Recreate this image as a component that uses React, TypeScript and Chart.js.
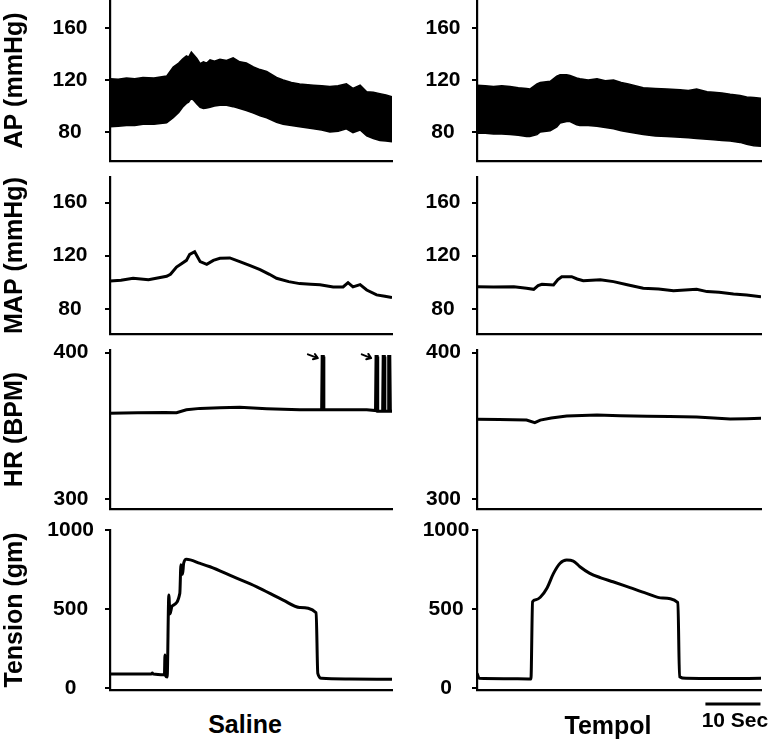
import React, { useEffect, useRef } from "react";
import { Chart, registerables } from "chart.js";

Chart.register(...registerables);

const FONT = "'Liberation Sans', Arial, Helvetica, sans-serif";

// ---------- DATA (time in seconds) ----------
// AP, Saline: envelope of the pulsatile trace (systolic / diastolic)
const apSalineTime = [0, 1.5, 3, 4.5, 6, 8, 10.3, 11.5, 12.5, 13.2, 13.9, 14.3, 14.8, 15.3, 15.8, 16.4, 17, 17.6, 18.2, 19, 20, 21.2, 22.4, 23.6, 24.8, 26.1, 27.3, 28.5, 30.3, 31.5, 33, 34.5, 37, 38.5, 40, 41.5, 43, 44.2, 45.5, 46.7, 47.9, 49.1, 50.2, 51.3];
const apSalineSys = [121, 120.5, 121.5, 121, 122, 121.5, 123, 130, 133, 136, 138.5, 137.5, 141.5, 139, 136.5, 132.5, 134, 133, 135.5, 134.5, 136, 135, 137, 134, 133, 130, 128, 126.5, 122, 120, 118, 117, 116, 115.5, 115, 115.5, 117, 113.5, 116, 111, 110.5, 109.5, 108.5, 107];
const apSalineDia = [84, 84.5, 85, 85, 86, 86, 87, 91, 95, 99, 102, 103, 106, 104, 101.5, 99, 98, 98.5, 99, 100, 100.5, 100.5, 99.5, 98, 96.5, 94.5, 92.5, 91, 87.5, 86, 85, 84, 82.5, 81.5, 80, 80.5, 82.5, 79.5, 81.5, 77, 75, 73.5, 73, 72.5];

// AP, Tempol
const apTempolTime = [0, 1.5, 3, 4.5, 6, 7.5, 9, 9.6, 10.9, 11.5, 13.3, 14.5, 15.1, 16.3, 16.9, 18.1, 18.7, 20.2, 21.8, 23.3, 24.8, 26.2, 27.5, 30.2, 32.4, 34.5, 36.9, 38.4, 39.9, 41.8, 43, 44.5, 46, 47.8, 49, 50.3, 51.6];
const apTempolSys = [116, 115.5, 115, 115.5, 115, 114, 113.5, 113, 117, 118, 119, 123, 124, 124, 123.5, 121.5, 121, 120, 121, 119.5, 120, 118, 117, 114, 113.5, 113, 112.5, 112, 113, 111, 110.5, 110, 109, 108, 107, 106.5, 106];
const apTempolDia = [79, 79, 78.5, 78.5, 78, 77.5, 76.5, 76.5, 78, 80, 81, 84, 87, 88, 88, 85.5, 85, 85, 84.5, 83.5, 82.5, 81, 80, 78, 77, 76.5, 76, 75.5, 75, 74.5, 74, 73.5, 73, 72, 70.5, 69.5, 69];

// MAP
const mapSalineTime = [0, 2, 4.2, 7, 10.3, 11, 12.1, 13, 13.9, 14.5, 15.4, 16.4, 17.6, 18.8, 20, 21.8, 23.6, 25.5, 27.3, 29, 30.3, 32.5, 34.5, 36.5, 38.2, 40.6, 42.4, 43.3, 44.2, 45.5, 46.7, 48.5, 50, 51.3];
const mapSaline = [101, 101.5, 103, 102, 104.5, 106, 111.5, 114, 116.5, 121, 123, 115.5, 113.5, 116.5, 118, 118.3, 115.5, 112.5, 109.5, 106, 103, 100.5, 99, 98.5, 98.2, 96.5, 96.5, 99.7, 96.5, 98.2, 94.2, 90.5, 89.5, 88.5];
const mapTempolTime = [0, 3, 6.7, 9, 10.3, 11.1, 11.8, 13.9, 14.7, 15.4, 17.2, 18.2, 19.3, 22.4, 24.8, 27.5, 30.2, 33, 35.7, 39.9, 41.8, 44, 46.6, 49, 51.6];
const mapTempol = [96.7, 96.5, 96.7, 95.5, 94.7, 97.5, 98.5, 98, 102, 104.2, 104.2, 102.5, 101.2, 101.9, 100.5, 98, 95.5, 95, 93.7, 94.7, 93, 92.5, 91.2, 90.5, 89.2];

// HR
const hrSalineTime = [0, 5, 10, 12.1, 13.9, 16.4, 20, 23.6, 28.5, 34.5, 38.5, 38.6, 38.8, 38.9, 42, 46.7, 48.3, 48.4, 48.6, 48.7, 49.6, 49.7, 49.9, 50.0, 50.6, 50.7, 50.9, 51.0, 51.3];
const hrSaline = [358.7, 359, 359.2, 359, 361, 362, 362.5, 362.7, 361.8, 361, 361, 397.3, 397.3, 361, 361, 361, 360.5, 397.3, 397.3, 360, 360, 397.3, 397.3, 360, 360, 397.3, 397.3, 360, 360];
const hrTempolTime = [0, 4, 9, 10.5, 11.5, 13.5, 16.3, 21.8, 26, 30.9, 35, 39.9, 43, 46, 49, 51.6];
const hrTempol = [354.6, 354.5, 354, 352.3, 354, 355.5, 356.8, 357.5, 357, 356.6, 356.5, 356.2, 355.5, 354.8, 355, 355.3];
// arrows marking artefact spikes (tail -> head), data coordinates
const hrArrowTailT = [36.0, 45.8];
const hrArrowTailV = [398.8, 398.8];
const hrArrowHeadT = [37.8, 47.5];
const hrArrowHeadV = [396.3, 396.3];

// Tension
const tenSalineTime = [0, 7.5, 7.7, 7.9, 9.9, 10.0, 10.1, 10.4, 10.7, 10.9, 11.3, 12.7, 12.9, 13.2, 13.4, 13.9, 16.4, 18.2, 22.4, 26.7, 31.5, 34.5, 37.5, 37.8, 38.5, 43.6, 51.3];
const tenSaline = [90, 90, 96, 90, 85, 210, 80, 72, 590, 470, 520, 600, 780, 720, 790, 815, 789, 768, 705, 641, 557, 511, 477, 95, 63, 59, 57];
const tenTempolTime = [0, 0.4, 5, 9.8, 10.1, 10.7, 11.5, 12.7, 13.9, 15.1, 16.3, 17.5, 18.7, 20.5, 22.5, 24.7, 27.8, 30.8, 33.7, 36.5, 36.8, 38, 45, 51.6];
const tenTempol = [95, 63, 61, 59, 547, 560, 575, 632, 726, 790, 810, 804, 768, 726, 698, 673, 636, 600, 570, 541, 73, 63, 62, 63];

// Axis ticks
const pressureTicks = [80, 120, 160];
const hrTicks = [300, 400];
const tensionTicks = [0, 500, 1000];
const scaleBarStart = 41.5;
const scaleBarSeconds = 10;

// ---------- helpers ----------
const pts = (t: number[], v: number[]) => t.map((x, i) => ({ x, y: v[i] }));

const lineDs = (t: number[], v: number[], extra: any = {}) => ({
  data: pts(t, v),
  borderColor: "#000",
  borderWidth: 3,
  pointRadius: 0,
  fill: false,
  ...extra,
});

const PADTOP = 15;

const arrowPlugin = {
  id: "hrArrows",
  afterDatasetsDraw(chart: any) {
    const { ctx, scales } = chart;
    ctx.save();
    ctx.strokeStyle = "#000";
    ctx.lineWidth = 2;
    ctx.lineCap = "round";
    for (let i = 0; i < hrArrowTailT.length; i++) {
      const x1 = scales.x.getPixelForValue(hrArrowTailT[i]);
      const y1 = scales.y.getPixelForValue(hrArrowTailV[i]);
      const x2 = scales.x.getPixelForValue(hrArrowHeadT[i]);
      const y2 = scales.y.getPixelForValue(hrArrowHeadV[i]);
      const a = Math.atan2(y2 - y1, x2 - x1);
      ctx.beginPath();
      ctx.moveTo(x1, y1);
      ctx.lineTo(x2, y2);
      ctx.moveTo(x2, y2);
      ctx.lineTo(x2 - 5 * Math.cos(a - 0.6), y2 - 5 * Math.sin(a - 0.6));
      ctx.moveTo(x2, y2);
      ctx.lineTo(x2 - 5 * Math.cos(a + 0.6), y2 - 5 * Math.sin(a + 0.6));
      ctx.stroke();
    }
    ctx.restore();
  },
};

const scaleBarPlugin = {
  id: "scaleBar",
  afterDraw(chart: any) {
    const { ctx, scales, chartArea } = chart;
    const x1 = scales.x.getPixelForValue(scaleBarStart);
    const x2 = scales.x.getPixelForValue(scaleBarStart + scaleBarSeconds);
    const y = chartArea.bottom + 14;
    ctx.save();
    ctx.strokeStyle = "#000";
    ctx.lineWidth = 3;
    ctx.beginPath();
    ctx.moveTo(x1, y);
    ctx.lineTo(x2, y);
    ctx.stroke();
    ctx.fillStyle = "#000";
    ctx.font = `bold 21px ${FONT}`;
    ctx.textAlign = "center";
    ctx.textBaseline = "middle";
    ctx.fillText(`${scaleBarSeconds} Sec`, (x1 + x2) / 2 + 2, y + 17);
    ctx.restore();
  },
};

type PanelProps = {
  left: number;
  width: number;
  areaTop: number;
  areaBottom: number;
  padBottom?: number;
  axisWidth: number;
  padRight: number;
  xMax: number;
  yMin: number;
  yMax: number;
  ticks: number[];
  tickPad: number;
  title?: string;
  datasets: any[];
  plugins?: any[];
};

function Panel(p: PanelProps) {
  const ref = useRef<HTMLCanvasElement | null>(null);
  const padBottom = p.padBottom ?? 15;
  const height = p.areaBottom - p.areaTop + PADTOP + padBottom;
  useEffect(() => {
    if (!ref.current) return;
    const chart = new Chart(ref.current, {
      type: "line",
      data: { datasets: p.datasets },
      options: {
        animation: false,
        responsive: false,
        maintainAspectRatio: false,
        layout: { padding: { top: PADTOP, bottom: padBottom, left: 0, right: p.padRight } },
        plugins: { legend: { display: false }, tooltip: { enabled: false } },
        elements: { point: { radius: 0 } },
        scales: {
          x: {
            type: "linear",
            min: 0,
            max: p.xMax,
            ticks: { display: false },
            grid: { display: true, drawOnChartArea: false, drawTicks: false },
            border: { display: true, color: "#000", width: 2.2 },
            afterFit: (s: any) => {
              s.paddingLeft = 0;
              s.paddingRight = 0;
            },
          },
          y: {
            type: "linear",
            min: p.yMin,
            max: p.yMax,
            afterBuildTicks: (s: any) => {
              s.ticks = p.ticks.map((v) => ({ value: v }));
            },
            afterFit: (s: any) => {
              s.width = p.axisWidth;
              s.paddingTop = 0;
              s.paddingBottom = 0;
            },
            ticks: {
              color: "#000",
              font: { family: FONT, size: 21, weight: "bold" },
              crossAlign: "center",
              padding: p.tickPad,
              callback: (v: any) => String(v),
            },
            grid: { display: true, drawOnChartArea: false, drawTicks: true, tickLength: 5, color: "#000", lineWidth: 2 },
            border: { display: true, color: "#000", width: 2.2 },
            title: p.title
              ? {
                  display: true,
                  text: p.title,
                  color: "#000",
                  font: { family: FONT, size: 25, weight: "bold" },
                  padding: { top: 0, bottom: 0 },
                }
              : { display: false },
          },
        },
      } as any,
      plugins: p.plugins || [],
    } as any);
    return () => chart.destroy();
  }, []);
  return (
    <canvas
      ref={ref}
      width={p.width}
      height={height}
      style={{ position: "absolute", left: p.left, top: p.areaTop - PADTOP, width: p.width, height }}
    />
  );
}

const LEFT = { left: 0, width: 400, axisWidth: 110, padRight: 8, xMax: 51.3 };
const RIGHT = { left: 400, width: 371, axisWidth: 77, padRight: 10, xMax: 51.6 };

const ROW_AP = { areaTop: 0, areaBottom: 161, yMin: 57.7, yMax: 181.5, ticks: pressureTicks };
const ROW_MAP = { areaTop: 177, areaBottom: 334, yMin: 61.1, yMax: 179.2, ticks: pressureTicks };
const ROW_HR = { areaTop: 350, areaBottom: 509, yMin: 293.4, yMax: 401.8, ticks: hrTicks };
const ROW_TEN = { areaTop: 530, areaBottom: 690, yMin: -10.7, yMax: 1000, ticks: tensionTicks };

const bandDs = (t: number[], sys: number[], dia: number[]) => [
  { data: pts(t, sys), borderColor: "#000", backgroundColor: "#000", borderWidth: 1.5, pointRadius: 0, fill: "+1" },
  { data: pts(t, dia), borderColor: "#000", backgroundColor: "#000", borderWidth: 1.5, pointRadius: 0, fill: false },
];

const labelStyle: React.CSSProperties = {
  position: "absolute",
  transform: "translate(-50%, -50%)",
  fontFamily: FONT,
  fontWeight: "bold",
  fontSize: 25,
  lineHeight: 1,
  color: "#000",
  whiteSpace: "nowrap",
};

export default function App() {
  return (
    <div style={{ position: "absolute", left: 0, top: 0, width: 771, height: 739, background: "#fff", overflow: "hidden" }}>
      <Panel {...LEFT} {...ROW_AP} tickPad={17.5} title="AP (mmHg)" datasets={bandDs(apSalineTime, apSalineSys, apSalineDia)} />
      <Panel {...RIGHT} {...ROW_AP} tickPad={11.5} datasets={bandDs(apTempolTime, apTempolSys, apTempolDia)} />

      <Panel {...LEFT} {...ROW_MAP} tickPad={17.5} title="MAP (mmHg)" datasets={[lineDs(mapSalineTime, mapSaline)]} />
      <Panel {...RIGHT} {...ROW_MAP} tickPad={11.5} datasets={[lineDs(mapTempolTime, mapTempol)]} />

      <Panel {...LEFT} {...ROW_HR} tickPad={16.5} title="HR (BPM)" datasets={[lineDs(hrSalineTime, hrSaline)]} plugins={[arrowPlugin]} />
      <Panel {...RIGHT} {...ROW_HR} tickPad={11} datasets={[lineDs(hrTempolTime, hrTempol)]} />

      <Panel {...LEFT} {...ROW_TEN} tickPad={11} title="Tension (gm)" datasets={[lineDs(tenSalineTime, tenSaline, { cubicInterpolationMode: "monotone" })]} />
      <Panel
        {...RIGHT}
        {...ROW_TEN}
        padBottom={45}
        tickPad={2.6}
        datasets={[lineDs(tenTempolTime, tenTempol, { cubicInterpolationMode: "monotone" })]}
        plugins={[scaleBarPlugin]}
      />

      <div style={{ ...labelStyle, left: 245, top: 724 }}>Saline</div>
      <div style={{ ...labelStyle, left: 608, top: 725 }}>Tempol</div>
    </div>
  );
}
